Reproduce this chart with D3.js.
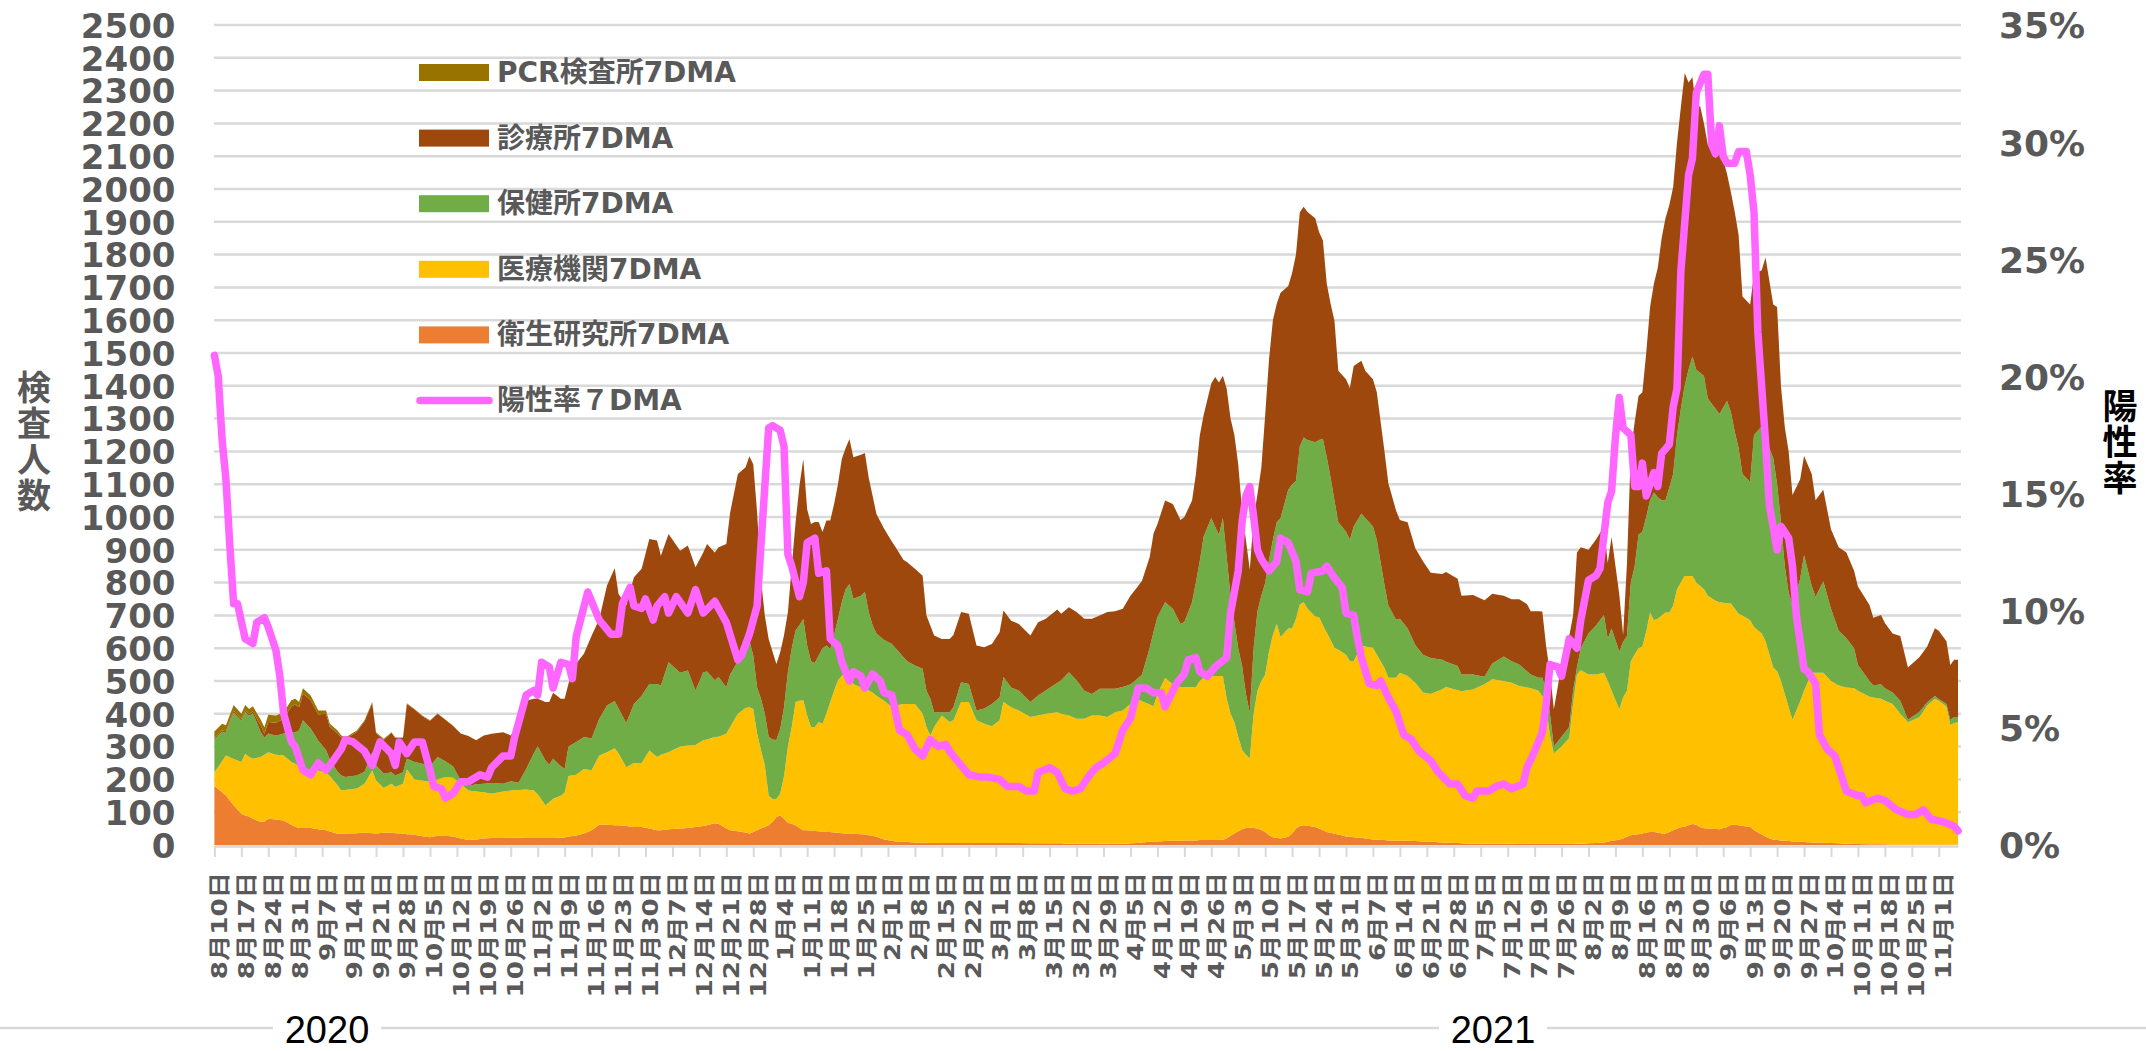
<!DOCTYPE html>
<html>
<head>
<meta charset="utf-8">
<script src="https://cdn.jsdelivr.net/npm/d3@7"></script>
<style>
  body { margin: 0; background: #fff; }
  svg { display: block; }
</style>
</head>
<body>
<div id="chart"></div>
<script>
// 検査人数（7日移動平均）と陽性率

// day offsets from 2020-08-10
const startDate = new Date(2020, 7, 10);
const days = [
  0,2,3,5,7,8,9,10,12,13,
  14,16,18,20,21,22,23,25,27,29,
  30,32,33,34,37,39,41,42,44,46,
  47,49,50,52,54,56,58,60,62,64,
  66,68,70,72,75,77,79,81,83,84,
  86,87,88,90,91,92,94,96,98,100,
  102,104,105,107,109,111,113,115,116,118,
  121,123,125,127,128,130,131,133,134,136,
  138,139,140,141,142,143,144,145,146,147,
  148,149,150,151,152,153,154,155,156,157,
  158,159,160,161,162,163,164,165,166,168,
  169,170,171,172,174,176,177,179,180,182,
  184,185,186,187,189,191,192,194,196,198,
  200,202,204,205,207,209,212,214,216,219,
  220,222,224,226,228,230,232,234,236,238,
  240,241,243,244,245,247,249,251,252,254,
  255,256,257,259,260,261,262,263,264,265,
  266,267,268,269,270,271,272,273,274,275,
  276,277,279,280,281,282,283,284,286,287,
  288,289,290,291,292,294,295,296,298,299,
  301,302,304,305,307,308,310,312,314,316,
  319,320,323,324,327,330,332,335,337,339,
  341,342,344,345,346,347,348,350,352,353,
  354,355,357,359,361,362,363,365,366,367,
  368,369,370,371,372,373,374,375,376,377,
  378,379,380,381,382,383,384,385,386,387,
  388,390,391,393,394,395,396,397,399,400,
  402,403,405,406,407,408,409,410,412,413,
  415,416,418,420,422,424,426,427,430,431,
  433,434,436,438,440,443,445,447,448,450,
  451,452,453
];

// 衛生研究所7DMA
const eiken = [
  180,161,151,121,95,90,87,80,70,72,
  80,78,75,62,56,52,52,52,48,45,
  41,34,35,35,36,38,36,35,37,38,
  36,35,33,31,27,24,28,28,26,20,
  15,17,20,21,21,23,22,21,21,21,
  21,21,21,22,23,26,29,35,45,62,
  62,60,60,58,55,55,50,45,45,48,
  50,52,55,58,60,66,65,50,45,42,
  38,35,40,45,50,55,60,70,85,90,
  80,68,65,60,52,45,45,44,43,42,
  41,40,40,38,37,36,35,35,34,33,
  32,30,28,25,17,13,11,10,9,8,
  7,7,6,6,6,6,6,6,6,6,
  6,6,6,6,6,6,5,5,5,5,
  5,4,4,4,4,4,4,4,4,5,
  6,8,10,10,11,12,13,13,14,14,
  14,15,15,15,15,15,16,20,28,35,
  42,48,52,53,52,50,46,40,30,24,
  22,20,25,35,50,58,60,59,55,50,
  45,40,37,34,32,26,25,24,22,20,
  17,16,15,14,13,13,13,12,11,10,
  8,7,6,5,4,4,4,4,4,3,
  3,3,3,3,3,3,3,3,3,3,
  4,4,5,6,8,10,13,16,20,25,
  30,32,33,35,38,40,40,38,35,35,
  40,45,50,54,56,60,64,62,55,51,
  50,49,48,55,62,62,60,58,56,45,
  32,25,16,15,14,13,12,11,10,9,
  8,8,7,6,5,4,3,3,2,2,
  2,2,1,1,1,1,1,1,1,1,
  1,1,1
];

// 医療機関7DMA
const iryo = [
  42,94,122,141,158,188,181,183,198,203,
  203,197,198,191,192,188,184,175,179,175,
  169,148,131,133,136,149,191,162,137,149,
  141,152,197,169,170,168,172,179,179,167,
  151,146,141,135,142,143,146,148,145,134,
  100,109,120,128,137,184,185,197,183,211,
  221,235,220,179,195,195,238,223,230,235,
  250,251,250,261,262,263,265,289,315,358,
  380,385,375,295,240,188,91,70,55,66,
  130,232,295,376,388,396,350,316,317,333,
  329,360,396,432,465,479,492,475,457,447,
  443,441,437,430,423,407,414,420,421,422,
  393,353,328,354,389,369,374,430,430,374,
  364,356,374,430,414,404,385,390,395,400,
  395,391,381,381,391,391,386,401,406,425,
  437,430,418,413,449,497,477,469,468,468,
  468,485,495,500,500,500,499,427,372,339,
  288,242,223,211,348,420,454,479,560,616,
  652,614,635,625,640,675,680,661,642,644,
  625,607,588,567,563,554,535,536,586,585,
  584,564,525,496,497,512,502,483,454,450,
  467,475,466,464,470,486,501,496,491,482,
  477,475,467,451,419,331,276,297,323,427,
  516,529,515,514,517,490,457,398,430,445,
  530,549,567,570,612,669,645,652,665,674,
  669,685,730,746,764,760,756,738,735,729,
  710,696,692,682,674,658,645,642,629,620,
  613,596,525,515,486,447,408,371,428,461,
  517,517,518,494,481,476,475,467,450,448,
  444,438,429,399,373,389,424,445,439,421,
  365,371,373
];

// 保健所7DMA
const hoken = [
  101,90,69,142,126,128,126,139,77,52,
  57,58,67,90,95,110,144,128,91,70,
  50,41,46,39,40,36,56,46,43,35,
  35,35,33,53,51,48,68,48,35,10,
  14,22,26,33,24,28,22,63,114,146,
  137,115,122,90,72,90,100,97,97,112,
  142,144,136,135,180,205,203,223,211,274,
  225,229,166,208,207,173,182,142,160,160,
  182,203,163,140,156,157,179,182,180,198,
  210,227,240,218,230,248,213,200,195,203,
  230,208,162,170,187,225,253,286,260,280,
  296,239,205,190,185,193,175,143,130,117,
  137,110,112,45,10,30,40,60,55,30,
  46,68,70,76,60,61,46,61,71,90,
  102,132,117,85,65,81,86,71,72,59,
  66,82,173,227,234,231,230,192,198,258,
  318,365,430,482,455,430,482,431,360,306,
  270,256,185,139,201,243,260,280,280,290,
  310,363,423,440,420,482,502,515,531,541,
  568,535,495,449,389,375,371,411,403,392,
  370,351,253,220,177,165,145,115,115,110,
  90,77,74,51,46,23,48,75,65,65,
  50,42,40,56,56,64,21,30,34,40,
  21,67,125,150,176,129,190,175,170,167,
  240,269,347,350,350,342,390,370,351,342,
  381,401,470,530,581,630,669,649,650,650,
  601,585,574,617,584,540,505,431,422,585,
  632,619,639,570,487,390,350,350,374,414,
  265,231,279,220,167,150,122,79,48,36,
  44,38,35,40,8,16,10,8,5,8,
  16,18,16
];

// 診療所7DMA
const shinryo = [
  3,5,5,5,5,5,5,5,20,12,
  35,40,45,80,85,70,82,87,80,110,
  100,118,116,116,133,154,150,98,104,120,
  114,104,167,160,145,138,132,127,123,143,
  152,134,147,150,157,140,180,208,166,145,
  178,191,201,206,214,192,239,254,313,304,
  366,405,349,358,386,387,442,437,396,391,
  372,381,376,365,389,390,396,437,494,571,
  552,562,583,534,365,300,298,268,232,234,
  220,183,250,330,425,488,416,419,430,407,
  354,381,391,400,411,437,430,442,431,430,
  424,410,395,364,339,312,308,297,302,295,
  284,230,223,234,223,223,220,214,214,198,
  187,183,199,203,204,203,203,223,219,223,
  203,198,208,220,230,224,234,237,238,271,
  281,286,277,300,284,310,320,317,320,310,
  330,383,370,410,457,465,434,513,540,570,
  560,474,470,436,396,357,390,512,610,670,
  666,687,621,644,690,714,704,695,683,634,
  605,529,530,548,462,465,462,489,465,449,
  449,449,407,373,333,301,324,295,285,260,
  261,273,266,240,242,233,213,185,189,199,
  205,193,203,202,127,127,114,219,277,230,
  351,308,255,262,270,231,279,175,20,223,
  400,440,422,425,500,589,637,700,799,860,
  861,875,892,920,953,875,852,796,813,770,
  773,764,820,692,670,670,650,541,541,490,
  475,551,468,540,413,424,430,335,303,302,
  341,295,279,243,255,262,236,239,232,207,
  211,199,180,197,159,167,170,207,208,191,
  167,175,175
];

// PCR検査所7DMA (reported through late Oct 2020 only)
const pcr = [
  20,20,18,18,16,16,16,16,18,20,
  22,22,20,18,18,16,16,14,12,10,
  10,8,6,5,4,3,3,3,3,2,
  2,2,2,2,2,2,1,1,1,0
];

// 陽性率7DMA (%)
const rateDays = [
  0,1,2,3,4,5,6,8,10,11,
  13,14,15,16,17,18,20,21,23,25,
  27,29,30,33,34,36,39,41,43,46,
  47,48,50,52,54,56,57,59,60,62,
  64,66,69,71,72,75,77,78,81,83,
  84,85,87,88,90,92,93,94,97,100,
  102,103,105,106,108,109,111,112,114,115,
  117,118,120,123,125,127,130,133,136,137,
  139,141,142,144,145,147,148,149,150,152,
  153,154,156,157,159,160,162,163,165,166,
  168,169,171,173,174,176,178,180,182,184,
  186,188,190,191,194,196,199,201,204,206,
  209,211,213,214,217,219,221,223,225,227,
  229,231,234,236,238,240,242,244,246,247,
  250,252,253,255,256,258,260,263,264,266,
  267,268,269,270,271,272,274,276,277,279,
  281,282,284,285,288,289,291,293,294,296,
  297,298,300,302,303,305,307,309,311,313,
  316,318,321,323,325,327,328,331,333,335,
  337,340,341,343,345,346,347,349,350,352,
  354,355,357,359,360,362,363,364,365,366,
  368,369,370,371,372,374,375,376,378,379,
  380,381,383,384,385,387,388,389,390,391,
  392,393,395,396,398,399,400,401,403,404,
  406,407,409,410,411,413,414,416,417,419,
  421,423,424,427,428,429,432,434,437,440,
  442,444,446,449,452,453
];
const rate = [
  20.9,20.0,17.3,15.6,12.8,10.3,10.3,8.8,8.6,9.5,
  9.7,9.3,8.8,8.3,7.2,5.6,4.4,4.2,3.2,3.0,
  3.5,3.2,3.4,4.1,4.5,4.4,4.0,3.4,4.4,3.9,
  3.4,4.4,3.9,4.4,4.4,3.2,2.5,2.4,2.0,2.2,
  2.7,2.7,3.0,2.9,3.3,3.8,3.8,4.6,6.4,6.6,
  6.4,7.8,7.6,6.7,7.8,7.7,7.1,8.9,10.8,9.6,
  9.2,9.0,9.0,10.3,11.0,10.2,10.1,10.5,9.6,10.2,
  10.6,9.9,10.6,9.9,10.9,9.9,10.4,9.5,7.9,8.1,
  9.0,10.2,12.8,17.8,17.9,17.7,17.0,12.4,11.9,10.6,
  11.2,12.9,13.1,11.6,11.7,8.8,8.5,7.8,7.0,7.4,
  7.2,6.7,7.3,7.0,6.5,6.4,4.9,4.7,4.1,3.8,
  4.5,4.2,4.3,4.0,3.4,3.0,2.9,2.9,2.8,2.5,
  2.5,2.3,2.3,3.1,3.3,3.1,2.4,2.3,2.4,2.9,
  3.3,3.5,3.9,4.9,5.4,6.7,6.7,6.5,6.5,5.9,
  6.9,7.3,7.9,8.0,7.4,7.2,7.6,8.0,9.9,11.7,
  13.8,14.9,15.3,14.0,12.6,12.2,11.7,12.1,13.1,12.9,
  12.1,10.9,10.8,11.6,11.7,11.9,11.4,11.0,9.9,9.8,
  8.8,8.0,6.9,6.8,7.0,6.3,5.7,4.7,4.5,4.0,
  3.6,3.1,2.6,2.6,2.1,2.0,2.3,2.3,2.5,2.6,
  2.4,2.6,3.3,4.0,4.8,6.0,7.7,7.6,7.2,8.8,
  8.4,9.6,11.3,11.5,11.8,14.6,15.1,17.4,19.1,17.8,
  17.5,15.3,15.3,16.3,14.9,15.9,15.3,16.7,17.1,18.7,
  19.5,24.5,28.6,29.3,32.1,32.9,32.9,29.9,29.5,30.7,
  29.4,29.1,29.1,29.6,29.6,28.6,27.0,21.9,17.2,14.5,
  12.6,13.6,13.1,11.9,9.8,7.5,7.4,6.9,4.7,4.1,
  3.8,2.8,2.3,2.1,2.1,1.8,2.0,1.9,1.5,1.3,
  1.3,1.5,1.1,1.0,0.8,0.6
];

// series, bottom to top of the stack
const seriesKeys = ["eiken", "iryo", "hoken", "shinryo", "pcr"];
const seriesNames = ["衛生研究所7DMA", "医療機関7DMA", "保健所7DMA", "診療所7DMA", "PCR検査所7DMA"];
const seriesColors = ["#ED7D31", "#FFC000", "#70AD47", "#9E480E", "#997300"];
const rateName = "陽性率７DMA";
const rateColor = "#FF66FF";

const yTicks = d3.range(0, 2501, 100);
const rateTicks = [0, 5, 10, 15, 20, 25, 30, 35];
const yearLabels = ["2020", "2021"];
const leftTitle = "検査人数";
const rightTitle = "陽性率";

// ---- layout ----
const width = 2146;
const height = 1051;
const grey = "#595959";
const latin = "'DejaVu Sans', 'Noto Sans CJK JP', sans-serif";
const cjk = "'Noto Sans CJK JP', 'DejaVu Sans', sans-serif";

const svg = d3.select("#chart")
  .append("svg")
  .attr("width", width)
  .attr("height", height);

const x = d3.scaleTime()
  .domain([startDate, d3.timeDay.offset(startDate, 453)])
  .range([214.4, 1958]);

const y = d3.scaleLinear().domain([0, 2500]).range([845, 25]);
const yRate = d3.scaleLinear().domain([0, 35]).range([845, 25]);

// horizontal gridlines
svg.append("g")
  .selectAll("line")
  .data(yTicks.filter(d => d > 0))
  .join("line")
  .attr("x1", 214)
  .attr("x2", 1961)
  .attr("y1", d => y(d))
  .attr("y2", d => y(d))
  .attr("stroke", "#d9d9d9")
  .attr("stroke-width", 2.5);

// stacked areas
const rows = days.map((d, i) => ({
  date: d3.timeDay.offset(startDate, d),
  eiken: eiken[i],
  iryo: iryo[i],
  hoken: hoken[i],
  shinryo: shinryo[i],
  pcr: pcr[i] || 0
}));

const stacked = d3.stack().keys(seriesKeys)(rows);

const area = d3.area()
  .x(d => x(d.data.date))
  .y0(d => y(d[0]))
  .y1(d => y(d[1]));

svg.append("g")
  .selectAll("path")
  .data(stacked)
  .join("path")
  .attr("fill", (d, i) => seriesColors[i])
  .attr("d", area);

// x axis
const weekTicks = d3.timeMonday.range(startDate, d3.timeDay.offset(startDate, 449));

const xAxis = svg.append("g")
  .attr("transform", "translate(0,846)")
  .call(d3.axisBottom(x)
    .tickValues(weekTicks)
    .tickSize(11)
    .tickSizeOuter(0)
    .tickFormat(d3.timeFormat("%-m月%-d日")));

xAxis.select(".domain").attr("stroke", "#d9d9d9").attr("stroke-width", 2.5);
xAxis.selectAll(".tick line").attr("stroke", "#d9d9d9").attr("stroke-width", 2);
xAxis.selectAll(".tick text")
  .attr("x", null)
  .attr("y", null)
  .attr("dy", null)
  .attr("text-anchor", "end")
  .attr("dominant-baseline", "central")
  .attr("transform", "translate(4.8,26) rotate(-90) scale(1.22,1)")
  .attr("fill", grey)
  .style("font-family", latin)
  .style("font-weight", "bold")
  .style("font-size", "21.5px");

// left axis
const yAxis = svg.append("g")
  .attr("transform", "translate(175.5,0)")
  .call(d3.axisLeft(y).tickValues(yTicks).tickSize(0).tickPadding(0)
    .tickFormat(d3.format("d")));
yAxis.select(".domain").remove();
yAxis.selectAll("text")
  .attr("fill", grey)
  .attr("dy", "0.36em")
  .style("font-family", latin)
  .style("font-weight", "bold")
  .style("font-size", "34px");

// right axis
const rAxis = svg.append("g")
  .attr("transform", "translate(1999,0)")
  .call(d3.axisRight(yRate).tickValues(rateTicks).tickSize(0).tickPadding(0)
    .tickFormat(d => d + "%"));
rAxis.select(".domain").remove();
rAxis.selectAll("text")
  .attr("fill", grey)
  .attr("dy", "0.36em")
  .style("font-family", latin)
  .style("font-weight", "bold")
  .style("font-size", "36px");

// positivity line
const line = d3.line()
  .x((d, i) => x(d3.timeDay.offset(startDate, rateDays[i])))
  .y(d => yRate(d));

svg.append("path")
  .datum(rate)
  .attr("d", line)
  .attr("fill", "none")
  .attr("stroke", rateColor)
  .attr("stroke-width", 7.5)
  .attr("stroke-linejoin", "round")
  .attr("stroke-linecap", "round");

// axis titles, written vertically
svg.append("text")
  .attr("x", 34)
  .attr("y", 370)
  .style("writing-mode", "vertical-rl")
  .style("text-orientation", "upright")
  .style("letter-spacing", "2px")
  .attr("fill", grey)
  .style("font-family", cjk)
  .style("font-weight", "bold")
  .style("font-size", "34px")
  .text(leftTitle);

svg.append("text")
  .attr("x", 2120)
  .attr("y", 388.5)
  .style("writing-mode", "vertical-rl")
  .style("text-orientation", "upright")
  .style("letter-spacing", "1px")
  .attr("fill", "#000")
  .style("font-family", cjk)
  .style("font-weight", "bold")
  .style("font-size", "35px")
  .text(rightTitle);

// legend: top to bottom = reverse stack order, then the line
const legendItems = seriesNames.map((n, i) => ({ name: n, color: seriesColors[i], kind: "area" }))
  .reverse()
  .concat([{ name: rateName, color: rateColor, kind: "line" }]);

const legend = svg.append("g")
  .selectAll("g")
  .data(legendItems)
  .join("g")
  .attr("transform", (d, i) => `translate(0,${72.5 + i * 65.6})`);

legend.filter(d => d.kind === "area")
  .append("rect")
  .attr("x", 419)
  .attr("y", -8.5)
  .attr("width", 70)
  .attr("height", 17)
  .attr("fill", d => d.color);

legend.filter(d => d.kind === "line")
  .append("line")
  .attr("x1", 420)
  .attr("x2", 489)
  .attr("stroke", d => d.color)
  .attr("stroke-width", 7.5)
  .attr("stroke-linecap", "round");

legend.append("text")
  .attr("x", 497)
  .attr("dominant-baseline", "central")
  .attr("fill", grey)
  .style("font-family", latin)
  .style("font-weight", "bold")
  .style("font-size", "28px")
  .text(d => d.name);

// year row
svg.append("line")
  .attr("x1", 0)
  .attr("x2", width)
  .attr("y1", 1028)
  .attr("y2", 1028)
  .attr("stroke", "#d9d9d9")
  .attr("stroke-width", 2.5);

const yearX = [327, 1493];
const years = svg.append("g")
  .selectAll("g")
  .data(yearLabels)
  .join("g")
  .attr("transform", (d, i) => `translate(${yearX[i]},1043)`);

years.append("rect")
  .attr("x", -54)
  .attr("y", -30)
  .attr("width", 108)
  .attr("height", 34)
  .attr("fill", "#fff");

years.append("text")
  .attr("text-anchor", "middle")
  .attr("fill", "#000")
  .style("font-family", "'Liberation Sans', Arial, sans-serif")
  .style("font-size", "38px")
  .text(d => d);
</script>
</body>
</html>
